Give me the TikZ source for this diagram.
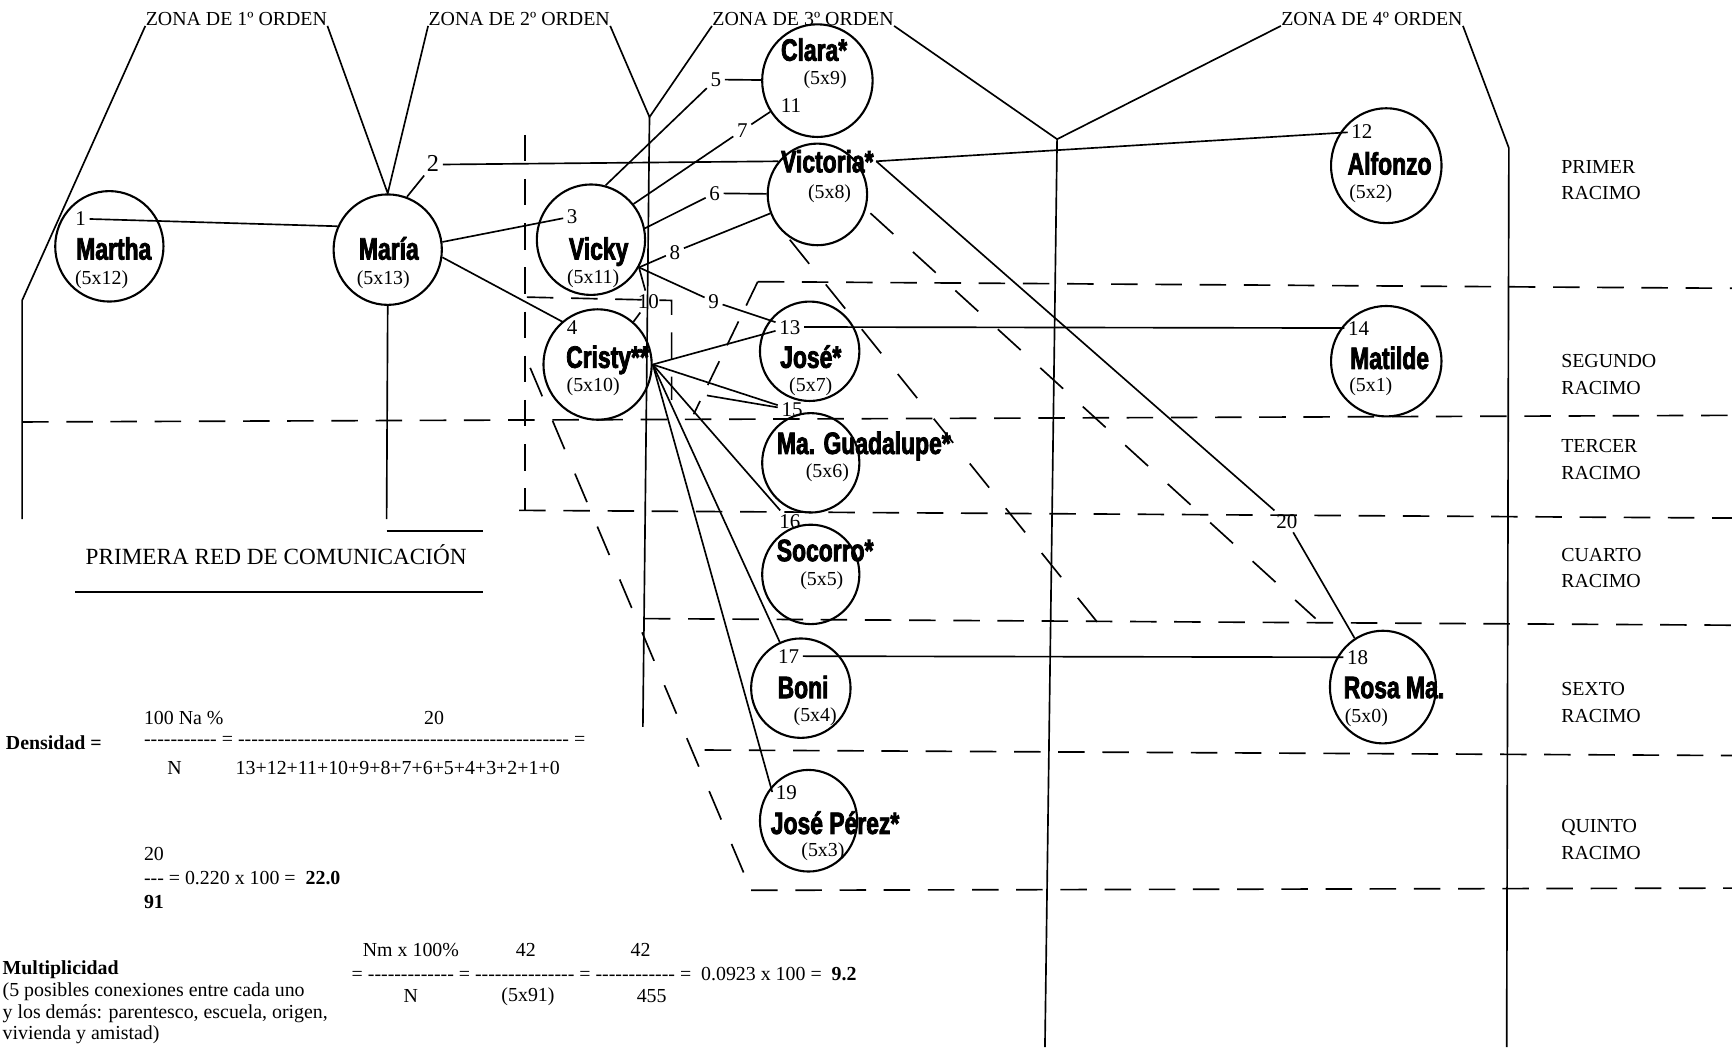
\documentclass[tikz,border=0pt]{standalone}
\usepackage{fontspec}
\setmainfont{Liberation Serif}
\newfontfamily\rawfont{Liberation Serif}
\newfontfamily\namefont{Liberation Sans}[UprightFont={* Bold},FakeStretch=0.74,FakeBold=2.5]
\usetikzlibrary{shapes.geometric}
\tikzset{
	person/.style={draw, ellipse, line width=0.95pt, inner sep=0pt,
		minimum width=49pt, minimum height=50pt},
	pname/.style={font=\namefont\fontsize{14}{14}\selectfont, inner sep=1pt,
		text height=10pt, text depth=0pt},
	pcount/.style={font=\fontsize{9}{10}\selectfont, inner sep=1pt},
	elab/.style={font=\fontsize{9.5}{10}\selectfont, inner sep=1.5pt,
		text height=6.5pt, text depth=0pt},
	txt/.style={font=\fontsize{9}{12}\selectfont, inner sep=0pt},
	rawtxt/.style={font=\rawfont\fontsize{9}{12}\selectfont, inner sep=0pt},
	link/.style={line width=0.75pt},
	zona/.style={line width=0.75pt},
	racimo/.style={line width=0.75pt, dash pattern=on 12pt off 8pt},
	diag/.style={line width=0.75pt, dash pattern=on 14pt off 12pt}
}

\begin{document}
\begin{tikzpicture}[x=0.5pt, y=-0.5pt]
	\useasboundingbox (0,0) rectangle (1568,948);
	\fill[white] (0,0) rectangle (1568,948);

	% zonas
	\node[txt] (z1) at (214,17) {ZONA DE 1º ORDEN};
	\node[txt] (z2) at (470,17) {ZONA DE 2º ORDEN};
	\node[txt] (z3) at (727,17) {ZONA DE 3º ORDEN};
	\node[txt] (z4) at (1242,17) {ZONA DE 4º ORDEN};

	% personas
	\node[person] (martha) at (99,223) {};
	\node[person] (maria) at (351,226) {};
	\node[person] (vicky) at (535,217) {};
	\node[person] (cristy) at (541,330) {};
	\node[person, minimum width=50pt, minimum height=51pt] (clara) at (740,73) {};
	\node[person, minimum width=45pt, minimum height=46pt] (victoria) at (740,176) {};
	\node[person, minimum width=45pt, minimum height=45pt] (jose) at (733,318) {};
	\node[person, minimum width=44pt, minimum height=45pt] (guada) at (734,419) {};
	\node[person, minimum width=44pt, minimum height=45pt] (socorro) at (734,520) {};
	\node[person, minimum width=45pt, minimum height=45pt] (boni) at (725,623) {};
	\node[person, minimum width=44pt, minimum height=46pt] (perez) at (732,743) {};
	\node[person, minimum width=50pt, minimum height=52pt] (alfonzo) at (1255,150) {};
	\node[person, minimum width=50pt, minimum height=50pt] (matilde) at (1255,327) {};
	\node[person, minimum width=48pt, minimum height=51pt] (rosa) at (1252,622) {};

	\node[pname] (nmartha) at (103,225) {Martha};
	\node[pname] (nmaria) at (352,225) {María};
	\node[pname] (nvicky) at (542,225) {Vicky};
	\node[pname] (ncristy) at (550,323) {Cristy**};
	\node[pname] (nclara) at (737,45) {Clara*};
	\node[pname] (vname) at (749,146) {Victoria*};
	\node[pname] (njose) at (734,323) {José*};
	\node[pname] (nguada) at (782,401) {Ma. Guadalupe*};
	\node[pname] (nsocorro) at (747,498) {Socorro*};
	\node[pname] (nboni) at (727,622) {Boni};
	\node[pname] (nperez) at (756,745) {José Pérez*};
	\node[pname] (nalfonzo) at (1258,148) {Alfonzo};
	\node[pname] (nmatilde) at (1258,324) {Matilde};
	\node[pname] (nrosa) at (1262,622) {Rosa Ma.};

	\node[pcount] at (92,253) {(5x12)};
	\node[pcount] at (347,253) {(5x13)};
	\node[pcount] at (537,252) {(5x11)};
	\node[pcount] at (537,350) {(5x10)};
	\node[pcount] at (747,72) {(5x9)};
	\node[pcount] at (751,175) {(5x8)};
	\node[pcount] at (734,350) {(5x7)};
	\node[pcount] at (749,428) {(5x6)};
	\node[pcount] at (744,526) {(5x5)};
	\node[pcount] at (738,649) {(5x4)};
	\node[pcount] at (745,771) {(5x3)};
	\node[pcount] at (1241,175) {(5x2)};
	\node[pcount] at (1241,350) {(5x1)};
	\node[pcount] at (1237,650) {(5x0)};

	% numeros de conexion
	\node[elab] (l1) at (73,198) {1};
	\node[elab, font=\fontsize{11}{11}\selectfont] (l2) at (392,149) {2};
	\node[elab] (l3) at (518,196) {3};
	\node[elab] (l4) at (518,296) {4};
	\node[elab] (l5) at (648,72) {5};
	\node[elab] (l6) at (647,175) {6};
	\node[elab] (l7) at (672,118) {7};
	\node[elab] (l8) at (611,228) {8};
	\node[elab] (l9) at (646,273) {9};
	\node[elab] (l10) at (587,273) {10};
	\node[elab] (l11) at (716,95) {11};
	\node[elab] (l12) at (1233,119) {12};
	\node[elab] (l13) at (715,296) {13};
	\node[elab] (l14) at (1230,297) {14};
	\node[elab] (l15) at (717,371) {15};
	\node[elab] (l16) at (715,472) {16};
	\node[elab] (l17) at (714,594) {17};
	\node[elab] (l18) at (1229,595) {18};
	\node[elab] (l19) at (712,717) {19};
	\node[elab] (l20) at (1165,472) {20};
	\coordinate (c15) at (640,358);

	% conexiones
	\draw[link] (l1) -- (maria.155);
	\draw[link] (maria.70) -- (l2) -- (vname.west);
	\draw[link] (maria.8) -- (l3);
	\draw[link] (maria.-8) -- (l4);
	\draw[link] (vicky.75) -- (l5) -- (clara);
	\draw[link] (vicky.40) -- (l7) -- (clara);
	\draw[link] (vicky.12) -- (l6) -- (victoria);
	\draw[link] (vicky.-30) -- (l8) -- (victoria);
	\draw[link] (vicky.-30) -- (l9) -- (l13);
	\draw[link] (vicky.-30) -- (l10) -- (cristy.50);
	\draw[link] (cristy.east) -- (l13);
	\draw[link] (l13) -- (l14);
	\draw[link] (cristy.east) -- (l15);
	\draw[link] (c15) -- (l15);
	\draw[link] (cristy.east) -- (l16);
	\draw[link] (cristy.east) -- (boni);
	\draw[link] (l17) -- (l18);
	\draw[link] (cristy.east) -- (l19.west);
	\draw[link] (vname.east) -- (l12);
	\draw[link] (vname.east) -- (l20) -- (rosa);

	% limites de zona
	\draw[zona] (z1.south west) -- (20,272) -- (20,470);
	\draw[zona] (z1.south east) -- (maria.north) -- (z2.south west);
	\draw[zona] (maria.south) -- (350,470);
	\draw[zona] (z2.south east) -- (588,106) -- (z3.south west);
	\draw[zona] (588,106) -- (582,658);
	\draw[zona] (z3.south east) -- (957,126) -- (z4.south west);
	\draw[zona] (957,126) -- (946,948);
	\draw[zona] (z4.south east) -- (1366,134) -- (1364,948);

	% racimos
	\draw[racimo] (475,122) -- (475,462);
	\draw[racimo] (477,269) -- (608,272) -- (608,362);
	\draw[racimo] (686,255) -- (1568,261);
	\draw[racimo] (686,255) -- (628,375);
	\draw[racimo] (20,382) -- (1568,376);
	\draw[racimo] (470,462) -- (1568,469);
	\draw[racimo] (583,560) -- (1568,566);
	\draw[racimo] (638,679) -- (1568,684);
	\draw[diag] (480,333) -- (680,806);
	\draw[racimo] (680,806) -- (1568,804);
	\draw[diag] (788,193) -- (1191,560);
	\draw[diag] (715,217) -- (994,564);

	\node[txt, align=left, anchor=west] (r1) at (1413,163) {PRIMER\\RACIMO};
	\node[txt, align=left, anchor=west] (r2) at (1413,339) {SEGUNDO\\RACIMO};
	\node[txt, align=left, anchor=west] (r3) at (1413,416) {TERCER\\RACIMO};
	\node[txt, align=left, anchor=west] (r4) at (1413,514) {CUARTO\\RACIMO};
	\node[txt, align=left, anchor=west] (r5) at (1413,636) {SEXTO\\RACIMO};
	\node[txt, align=left, anchor=west] (r6) at (1413,760) {QUINTO\\RACIMO};

	% red
	\node[txt, font=\fontsize{10.5}{12}\selectfont] (red) at (250,502) {PRIMERA RED DE COMUNICACIÓN};
	\draw[zona] (350,481) -- (437,481);
	\draw[zona] (68,536) -- (437,536);

	% densidad
	\node[txt, anchor=west] (f1) at (130,650) {100 Na \%};
	\node[txt] (f2) at (393,650) {20};
	\node[txt, anchor=west] (f3) at (5,672) {\textbf{Densidad =}};
	\node[rawtxt, anchor=west] (f4) at (130,671) {----------- = -------------------------------------------------- =};
	\node[txt] (f5) at (158,695) {N};
	\node[txt, anchor=west] (f6) at (213,695) {13+12+11+10+9+8+7+6+5+4+3+2+1+0};
	\node[txt, anchor=west] (f7) at (130,773) {20};
	\node[rawtxt, anchor=west] (f8) at (130,795) {--- = 0.220 x 100 =\ \ \textbf{22.0}};
	\node[txt, anchor=west] (f9) at (130,817) {\textbf{91}};

	% multiplicidad
	\node[txt, anchor=west] (m1) at (2,878) {\textbf{Multiplicidad}};
	\node[txt, anchor=west] (m2) at (2,898) {(5 posibles conexiones entre cada uno};
	\node[txt, anchor=west] (m3) at (2,918) {y los demás: parentesco, escuela, origen,};
	\node[txt, anchor=west] (m4) at (2,937) {vivienda y amistad)};
	\node[txt] (m5) at (372,860) {Nm x 100\%};
	\node[txt] (m6) at (476,860) {42};
	\node[txt] (m7) at (580,860) {42};
	\node[rawtxt, anchor=west] (m8) at (318,882) {= ------------- = --------------- = ------------ = \ 0.0923 x 100 = \ \textbf{9.2}};
	\node[txt] (m9) at (372,902) {N};
	\node[txt] (m10) at (478,902) {(5x91)};
	\node[txt] (m11) at (590,902) {455};
\end{tikzpicture}
\end{document}
